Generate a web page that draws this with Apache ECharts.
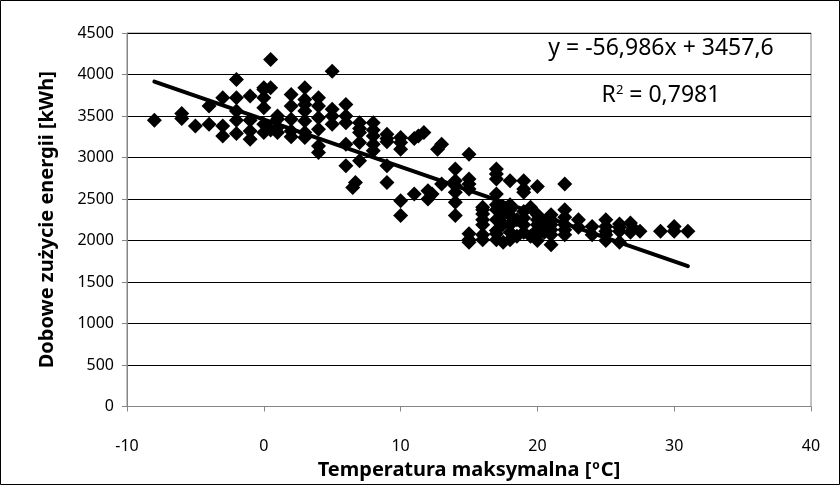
<!DOCTYPE html>
<html>
<head>
<meta charset="utf-8">
<script src="https://cdn.jsdelivr.net/npm/echarts@6/dist/echarts.min.js"></script>
<style>
  html, body { margin: 0; padding: 0; background: #fff; }
  #chart { width: 840px; height: 485px; }
</style>
</head>
<body>
<div id="chart"></div>
<script>
// temperatura maksymalna [°C]
const tempX = [
  -8, -6, -6, -5, -4, -4, -3, -3, -3, -2, -2, -2, -2, -2,
  -1, -1, -1, -1, 0, 0, 0, 0, 0, 0, 0.5, 0.5, 0.5,
  1, 1, 1, 1, 2, 2, 2, 2, 2, 3, 3, 3, 3, 3, 3, 3,
  4, 4, 4, 4, 4, 4, 5, 5, 5, 5, 6, 6, 6, 6, 6, 6.5, 6.7,
  7, 7, 7, 7, 7, 8, 8, 8, 8, 8, 9, 9, 9, 9, 9,
  10, 10, 10, 10, 10, 11, 11, 11.3, 11.7, 12, 12, 12.3,
  12.7, 13, 13, 14, 14, 14, 14, 14, 14,
  15, 15, 15, 15, 15, 15, 15, 16, 16, 16, 16, 16, 16, 16,
  17, 17, 17, 17, 17, 17, 17, 17, 17, 17, 17.5, 17.5, 17.5, 17.5,
  18, 18, 18, 18, 18, 18, 18, 18.5, 18.5,
  19, 19, 19, 19, 19, 19, 19, 19.5, 19.5,
  20, 20, 20, 20, 20, 20, 20, 20.5, 20.5,
  21, 21, 21, 21, 21, 21, 22, 22, 22, 22, 22, 22,
  23, 23, 24, 24, 25, 25, 25, 25, 25, 26, 26, 26, 26,
  26.8, 26.8, 27, 27.5, 29, 30, 30, 31
];

// dobowe zużycie energii [kWh]
const energyY = [
  3450, 3530, 3470, 3380, 3620, 3400, 3720, 3380, 3260, 3940, 3720, 3560, 3290, 3450,
  3740, 3450, 3220, 3320, 3840, 3720, 3600, 3400, 3300, 3820, 4180, 3840, 3330,
  3500, 3360, 3460, 3300, 3760, 3620, 3320, 3460, 3250, 3840, 3640, 3560, 3440, 3240, 3700, 3300,
  3720, 3620, 3140, 3060, 3480, 3340, 4040, 3580, 3400, 3500, 3640, 3500, 2900, 3420, 3160, 2640, 2700,
  3420, 3180, 2960, 3300, 3350, 3420, 3330, 3160, 3080, 3260, 3280, 3190, 2900, 2700, 3230,
  3240, 3100, 2480, 2300, 3180, 3230, 2560, 3260, 3300, 2600, 2500, 2560,
  3100, 3160, 2680, 2860, 2720, 2460, 2300, 2580, 2660,
  3040, 2740, 2620, 2010, 2080, 1980, 2680, 2370, 2250, 2070, 2010, 2320, 2190, 2400,
  2860, 2740, 2370, 2010, 2120, 2250, 2560, 2430, 2800, 2080, 2320, 1980, 2200, 2400,
  2720, 2370, 2190, 2010, 2300, 2100, 2430, 2050, 2250,
  2720, 2620, 2350, 2190, 2100, 2270, 2580, 2400, 2050,
  2650, 2310, 2190, 2070, 2000, 2130, 2250, 2100, 2200,
  2310, 2190, 1950, 2070, 2250, 2130, 2680, 2370, 2190, 2070, 2280, 2130,
  2250, 2160, 2170, 2070, 2250, 2070, 2110, 2170, 2000, 1980, 2160, 2110, 2200,
  2210, 2100, 2150, 2110, 2110, 2170, 2110, 2110
];

// linia trendu: y = -56,986x + 3457,6
const trendSlope = -56.986;
const trendIntercept = 3457.6;

const xTicks = [-10, 40, 10];
const yTicks = [0, 4500, 500];

const points = tempX.map((x, i) => [x, energyY[i]]);
const xMin = Math.min(...tempX);
const xMax = Math.max(...tempX);
const trend = [xMin, xMax].map(x => [x, trendSlope * x + trendIntercept]);

const font = 'Noto Sans';
const chart = echarts.init(document.getElementById('chart'));

chart.setOption({
  animation: false,
  backgroundColor: '#fff',
  grid: {
    left: 127, right: 29, top: 33, bottom: 78,
    show: true, borderColor: '#868686', borderWidth: 1
  },
  xAxis: {
    type: 'value',
    min: xTicks[0], max: xTicks[1], interval: xTicks[2],
    name: 'Temperatura maksymalna [{s|o}C]',
    nameLocation: 'middle',
    nameGap: 53,
    nameTextStyle: {
      fontFamily: font, fontSize: 20, fontWeight: 'bold', color: '#000',
      rich: {
        s: { fontFamily: font, fontSize: 12, fontWeight: 'bold', color: '#000', verticalAlign: 'top', padding: [0, 1, 9, 1] }
      }
    },
    axisLine: { show: true, onZero: false, lineStyle: { color: '#868686', width: 1 } },
    axisTick: { show: true, inside: false, length: 5, lineStyle: { color: '#868686' } },
    axisLabel: { fontFamily: font, fontSize: 16, color: '#000', margin: 32 },
    splitLine: { show: false }
  },
  yAxis: {
    type: 'value',
    min: yTicks[0], max: yTicks[1], interval: yTicks[2],
    name: 'Dobowe zużycie energii [kWh]',
    nameLocation: 'middle',
    nameGap: 70,
    nameTextStyle: { fontFamily: font, fontSize: 20, fontWeight: 'bold', color: '#000' },
    axisLine: { show: true, onZero: false, lineStyle: { color: '#868686', width: 1 } },
    axisTick: { show: true, inside: false, length: 5, lineStyle: { color: '#868686' } },
    axisLabel: { fontFamily: font, fontSize: 16, color: '#000', margin: 13, formatter: v => String(v) },
    splitLine: { show: true, lineStyle: { color: '#000', width: 1 } }
  },
  series: [
    {
      type: 'scatter',
      data: points,
      symbol: 'diamond',
      symbolSize: [15, 15],
      itemStyle: { color: '#000', opacity: 1 },
      z: 2
    },
    {
      type: 'line',
      data: trend,
      showSymbol: false,
      symbol: 'none',
      lineStyle: { color: '#000', width: 4, cap: 'round' },
      z: 3
    }
  ],
  graphic: [
    {
      type: 'rect',
      shape: { x: 0.5, y: 0.5, width: 839, height: 484 },
      style: { fill: 'none', stroke: '#000', lineWidth: 1 },
      silent: true
    },
    {
      type: 'text',
      x: 661, y: 48,
      style: {
        text: 'y = -56,986x + 3457,6', font: '23px "Noto Sans"', fill: '#000',
        textAlign: 'center', textVerticalAlign: 'middle'
      },
      z: 10
    },
    {
      type: 'text',
      x: 661, y: 95,
      style: {
        text: '{a|R}{s|2}{a| = 0,7981}',
        textAlign: 'center', textVerticalAlign: 'middle',
        rich: {
          a: { fontFamily: font, fontSize: 23, color: '#000' },
          s: { fontFamily: font, fontSize: 13, color: '#000', verticalAlign: 'top', padding: [0, 0, 10, 0] }
        }
      },
      z: 10
    }
  ]
});
</script>
</body>
</html>
